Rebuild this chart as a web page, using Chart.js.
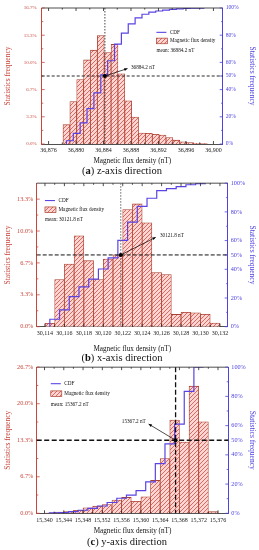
<!DOCTYPE html>
<html>
<head>
<meta charset="utf-8">
<script src="https://cdn.jsdelivr.net/npm/chart.js@4.4.0/dist/chart.umd.min.js"></script>
<style>
    html, body { margin: 0; padding: 0; background: #fff; }
    body { width: 259px; height: 550px; position: relative; overflow: hidden; font-family: 'Liberation Serif', 'Times New Roman', serif; }
    .panel { position: absolute; left: 0; width: 259px; }
    .caption { position: absolute; width: 200px; text-align: center; font-size: 10.5px; line-height: 12px; color: #111; }
</style>
</head>
<body>
<div class="panel" style="top:0;height:166px"><canvas id="chart-z"></canvas></div>
<div class="caption" style="top:165px;left:22px">(<b>a</b>) z-axis direction</div>
<div class="panel" style="top:176px;height:178px"><canvas id="chart-x"></canvas></div>
<div class="caption" style="top:352px;left:22px">(<b>b</b>) x-axis direction</div>
<div class="panel" style="top:360px;height:176px"><canvas id="chart-y"></canvas></div>
<div class="caption" style="top:536px;left:27px">(<b>c</b>) y-axis direction</div>
<script>
const FONT = "'Liberation Serif', 'Times New Roman', serif";
const LEFT_COLOR = '#c8463c';
const RIGHT_COLOR = '#4f43e0';
const CDF_COLOR = '#5a44e4';
const BAR_EDGE = '#a8402f';

// (a) z-axis: bin centers (nT), frequency (%), CDF (%)
const zBins = [36878.6, 36879.6, 36880.6, 36881.6, 36882.6, 36883.6, 36884.6, 36885.6, 36886.6, 36887.6,
    36888.6, 36889.6, 36890.6, 36891.6, 36892.6, 36893.6, 36894.6, 36895.6, 36896.6, 36897.6, 36898.6];
const zFreq = [2.37, 5.2, 7.9, 10.3, 11.5, 13.3, 11.2, 12.2, 8.6, 5.3, 3.3, 1.34, 1.3, 1.2, 1.1, 0.8, 0.47, 0.27, 0.16, 0.08, 0.04];
const zCdf = [2.4, 7.8, 15.6, 26.0, 37.6, 50.8, 61.2, 73.4, 81.5, 88.3, 92.8, 95.4, 96.9, 97.8, 98.5, 99.0, 99.4, 99.7, 99.85, 99.95, 100];
const zTicksX = [36876, 36880, 36884, 36888, 36892, 36896, 36900];
const zTicksLeft = [0, 3.333, 6.667, 10, 13.333, 16.667];
const zMean = 36884.2;

// (b) x-axis
const xBins = [30114.5, 30115.5, 30116.5, 30117.5, 30118.5, 30119.5, 30120.5, 30121.5, 30122.5,
    30123.5, 30124.5, 30125.5, 30126.5, 30127.5, 30128.5, 30129.5, 30130.5, 30131.5];
const xFreq = [0.35, 4.93, 6.55, 9.49, 6.9, 4.93, 7.07, 7.52, 12.25, 12.83, 10.86, 5.66, 5.45, 1.28, 1.5, 1.45, 1.3, 0.38];
const xCdf = [5.2, 11.7, 21.0, 27.8, 33.1, 40.2, 48.0, 60.2, 72.9, 83.8, 89.5, 94.8, 96.2, 97.6, 98.9, 99.7, 100];
const xTicksX = [30114, 30116, 30118, 30120, 30122, 30124, 30126, 30128, 30130, 30132];
const xTicksLeft = [0, 3.333, 6.667, 10, 13.333];
const xMean = 30121.8;

// (c) y-axis
const yBins = [15341, 15343, 15345, 15347, 15349, 15351, 15353, 15355, 15357,
    15359, 15361, 15363, 15365, 15367, 15369, 15371, 15373, 15375];
const yFreq = [0.05, 0.2, 0.3, 0.55, 1.0, 1.3, 1.6, 2.4, 2.9, 2.2, 3.0, 6.0, 10.0, 17.0, 13.0, 23.2, 16.7, 0.3];
const yCdf = [0.25, 0.55, 1.1, 2.1, 3.4, 5.0, 7.4, 10.3, 12.5, 15.5, 21.5, 34.0, 47.5, 61.0, 83.5, 100, 100];
const yTicksX = [15340, 15344, 15348, 15352, 15356, 15360, 15364, 15368, 15372, 15376];
const yTicksLeft = [0, 6.667, 13.333, 20, 26.667];
const yMean = 15367.2;

const cdfTicks = [0, 20, 40, 50, 60, 80, 100];

function hatchPattern() {
    const c = document.createElement('canvas');
    c.width = 4; c.height = 4;
    const g = c.getContext('2d');
    g.fillStyle = '#fcd6d2';
    g.fillRect(0, 0, 4, 4);
    g.strokeStyle = '#dd5a52';
    g.lineWidth = 0.9;
    g.beginPath();
    g.moveTo(0, 4); g.lineTo(4, 0);
    g.moveTo(-1, 1); g.lineTo(1, -1);
    g.moveTo(3, 5); g.lineTo(5, 3);
    g.stroke();
    return g.createPattern(c, 'repeat');
}
const HATCH = hatchPattern();

function midpoints(list) {
    const out = [];
    for (let i = 1; i < list.length; i++) out.push((list[i - 1] + list[i]) / 2);
    return out;
}

function inTicks(ctx, pixels, fixed, len, vertical) {
    ctx.beginPath();
    pixels.forEach(p => {
        if (vertical) { ctx.moveTo(p, fixed); ctx.lineTo(p, fixed + len); }
        else { ctx.moveTo(fixed, p); ctx.lineTo(fixed + len, p); }
    });
    ctx.stroke();
}

const decor = {
    id: 'decor',
    afterDatasetsDraw(chart, args, o) {
        const {ctx, chartArea: a, scales} = chart;
        const sx = scales.x, sl = scales.yL, sr = scales.yR;
        ctx.save();

        // top frame line
        ctx.strokeStyle = '#222';
        ctx.lineWidth = 0.8;
        ctx.beginPath(); ctx.moveTo(a.left, a.top); ctx.lineTo(a.right, a.top); ctx.stroke();

        // ticks pointing inside
        const xMaj = o.ticksX.map(v => sx.getPixelForValue(v));
        const xMin = midpoints(o.ticksX).map(v => sx.getPixelForValue(v));
        inTicks(ctx, xMaj, a.bottom, -3, true);
        inTicks(ctx, xMin, a.bottom, -1.6, true);
        inTicks(ctx, xMaj, a.top, 3, true);
        inTicks(ctx, xMin, a.top, 1.6, true);
        ctx.strokeStyle = LEFT_COLOR;
        inTicks(ctx, o.ticksLeft.map(v => sl.getPixelForValue(v)), a.left, 3, false);
        inTicks(ctx, midpoints(o.ticksLeft).map(v => sl.getPixelForValue(v)), a.left, 1.6, false);
        ctx.strokeStyle = RIGHT_COLOR;
        inTicks(ctx, cdfTicks.map(v => sr.getPixelForValue(v)), a.right, -3, false);
        inTicks(ctx, [10, 30, 70, 90].map(v => sr.getPixelForValue(v)), a.right, -1.6, false);

        // mean lines
        const mx = sx.getPixelForValue(o.mean);
        const my = sr.getPixelForValue(50);
        ctx.lineWidth = o.lineW;
        ctx.strokeStyle = o.vColor;
        ctx.setLineDash(o.vDash);
        ctx.beginPath(); ctx.moveTo(mx, a.top); ctx.lineTo(mx, a.bottom); ctx.stroke();
        ctx.strokeStyle = '#111';
        ctx.setLineDash(o.hDash);
        ctx.beginPath(); ctx.moveTo(a.left, my); ctx.lineTo(a.right, my); ctx.stroke();
        ctx.setLineDash([]);

        // marker
        ctx.fillStyle = '#000';
        ctx.beginPath(); ctx.arc(mx, my, 2, 0, Math.PI * 2); ctx.fill();

        // arrow to the label
        const ax = sx.getPixelForValue(o.arrow[0]);
        const ay = sr.getPixelForValue(o.arrow[1]);
        const ang = Math.atan2(ay - my, ax - mx);
        ctx.strokeStyle = '#000';
        ctx.lineWidth = 0.7;
        ctx.beginPath(); ctx.moveTo(mx, my); ctx.lineTo(ax, ay); ctx.stroke();
        ctx.beginPath();
        ctx.moveTo(ax, ay);
        ctx.lineTo(ax - 3.6 * Math.cos(ang - 0.4), ay - 3.6 * Math.sin(ang - 0.4));
        ctx.lineTo(ax - 3.6 * Math.cos(ang + 0.4), ay - 3.6 * Math.sin(ang + 0.4));
        ctx.closePath(); ctx.fill();

        ctx.font = '5.2px ' + FONT;
        ctx.textBaseline = 'middle';
        ctx.textAlign = o.labelAlign;
        ctx.fillStyle = '#111';
        ctx.fillText(o.label, sx.getPixelForValue(o.labelAt[0]), sr.getPixelForValue(o.labelAt[1]));

        // legend
        const lx = sx.getPixelForValue(o.legendAt[0]);
        const ly = sr.getPixelForValue(o.legendAt[1]);
        ctx.textAlign = 'left';
        ctx.strokeStyle = CDF_COLOR;
        ctx.lineWidth = 1.1;
        ctx.beginPath(); ctx.moveTo(lx, ly); ctx.lineTo(lx + 10, ly); ctx.stroke();
        ctx.fillText('CDF', lx + 13.5, ly);
        const by = ly + o.gap;
        ctx.fillStyle = HATCH;
        ctx.fillRect(lx, by - 2.8, 11, 5.6);
        ctx.strokeStyle = BAR_EDGE;
        ctx.lineWidth = 0.7;
        ctx.strokeRect(lx, by - 2.8, 11, 5.6);
        ctx.fillStyle = '#111';
        ctx.fillText('Magnetic flux density', lx + 13.5, by);
        ctx.fillText('mean: ' + o.mean.toFixed(1) + ' nT', lx, by + o.gap + 0.8);

        ctx.restore();
    }
};

function makePanel(id, p) {
    const bars = p.bins.map((b, i) => ({x: b, y: p.freq[i]}));
    const cdf = [{x: p.bins[0], y: 0}].concat(p.cdf.map((v, i) => ({x: p.bins[i], y: v})));
    return new Chart(document.getElementById(id), {
        type: 'bar',
        data: {
            datasets: [{
                type: 'bar',
                data: bars,
                xAxisID: 'x',
                yAxisID: 'yL',
                backgroundColor: HATCH,
                borderColor: BAR_EDGE,
                borderWidth: 0.8,
                barPercentage: 1,
                categoryPercentage: 1,
                order: 2
            }, {
                type: 'line',
                data: cdf,
                xAxisID: 'x',
                yAxisID: 'yR',
                stepped: true,
                borderColor: CDF_COLOR,
                borderWidth: 1.2,
                pointRadius: 0,
                fill: false,
                order: 1
            }]
        },
        options: {
            responsive: true,
            maintainAspectRatio: false,
            devicePixelRatio: 1,
            animation: false,
            events: [],
            layout: {padding: {top: p.padTop, left: 0, right: 0, bottom: 0}},
            plugins: {
                legend: {display: false},
                tooltip: {enabled: false},
                decor: {
                    mean: p.mean, ticksX: p.ticksX, ticksLeft: p.ticksLeft,
                    vDash: p.vDash, hDash: p.hDash, vColor: p.vColor, lineW: p.lineW,
                    arrow: p.arrow, label: p.mean.toFixed(1) + ' nT', labelAt: p.labelAt, labelAlign: p.labelAlign,
                    legendAt: p.legendAt, gap: p.gap
                }
            },
            scales: {
                x: {
                    type: 'linear',
                    position: 'bottom',
                    min: p.xMin,
                    max: p.xMax,
                    offset: false,
                    afterBuildTicks: s => { s.ticks = p.ticksX.map(v => ({value: v})); },
                    afterFit: s => { s.height = p.xH; },
                    grid: {display: false, drawTicks: false},
                    border: {color: '#222', width: 0.8},
                    ticks: {
                        color: '#222', autoSkip: false, maxRotation: 0, padding: p.xPad,
                        font: {family: FONT, size: 6},
                        callback: v => v.toLocaleString('en-US')
                    },
                    title: {
                        display: true, text: 'Magnetic flux density (nT)', color: '#111',
                        font: {family: FONT, size: 7.2}, padding: {top: 0, bottom: p.titlePad}
                    }
                },
                yL: {
                    position: 'left',
                    min: 0,
                    max: p.leftMax,
                    afterBuildTicks: s => { s.ticks = p.ticksLeft.map(v => ({value: v})); },
                    afterFit: s => { s.width = p.leftW; },
                    grid: {display: false, drawTicks: false},
                    border: {color: LEFT_COLOR, width: 1},
                    ticks: {
                        color: LEFT_COLOR, padding: p.leftPad,
                        font: {family: FONT, size: p.leftFont},
                        callback: v => v.toFixed(1) + '%'
                    },
                    title: {
                        display: true, text: 'Statistics frequency', color: LEFT_COLOR,
                        font: {family: FONT, size: 7.5}, padding: {top: 4, bottom: 0}
                    }
                },
                yR: {
                    position: 'right',
                    min: 0,
                    max: 100,
                    afterBuildTicks: s => { s.ticks = cdfTicks.map(v => ({value: v})); },
                    afterFit: s => { s.width = p.rightW; },
                    grid: {display: false, drawTicks: false},
                    border: {color: RIGHT_COLOR, width: 1},
                    ticks: {
                        color: RIGHT_COLOR, padding: 3,
                        font: {family: FONT, size: p.rightFont},
                        callback: v => v + '%'
                    },
                    title: {
                        display: true, text: 'Statistics frequency', color: RIGHT_COLOR,
                        font: {family: FONT, size: 7.5}, padding: {top: 3, bottom: 0}
                    }
                }
            }
        },
        plugins: [decor]
    });
}

makePanel('chart-z', {
    bins: zBins, freq: zFreq, cdf: zCdf, ticksX: zTicksX, ticksLeft: zTicksLeft, mean: zMean,
    xMin: 36875.0, xMax: 36901.35, leftMax: 16.667,
    padTop: 3, leftW: 41.7, rightW: 36.3, xH: 22, xPad: 3, titlePad: 0.5,
    leftFont: 5, rightFont: 5.6, leftPad: 5,
    vDash: [1.5, 1.5], hDash: [3, 2], vColor: '#333', lineW: 0.9,
    arrow: [36887.5, 55.5], labelAt: [36888.0, 56.5], labelAlign: 'left',
    legendAt: [36891.7, 82.1], gap: 8.6
});

makePanel('chart-x', {
    bins: xBins, freq: xFreq, cdf: xCdf, ticksX: xTicksX, ticksLeft: xTicksLeft, mean: xMean,
    xMin: 30113.15, xMax: 30132.8, leftMax: 15,
    padTop: 5.7, leftW: 36.7, rightW: 31.3, xH: 27.3, xPad: 3.5, titlePad: 0.3,
    leftFont: 6.3, rightFont: 6.2, leftPad: 3.4,
    vDash: [1.5, 1.5], hDash: [4, 2], vColor: '#666', lineW: 1,
    arrow: [30125.4, 62.3], labelAt: [30125.83, 63.7], labelAlign: 'left',
    legendAt: [30114.0, 87.9], gap: 9.2
});

makePanel('chart-y', {
    bins: yBins, freq: yFreq, cdf: yCdf, ticksX: yTicksX, ticksLeft: yTicksLeft, mean: yMean,
    xMin: 15338.38, xMax: 15378.14, leftMax: 26.667,
    padTop: 6, leftW: 36.7, rightW: 30.7, xH: 22.7, xPad: 3.5, titlePad: 0.3,
    leftFont: 6.3, rightFont: 6.2, leftPad: 3.4,
    vDash: [5, 2.5], hDash: [5, 2.5], vColor: '#111', lineW: 1.3,
    arrow: [15361.6, 61.1], labelAt: [15361.0, 62.7], labelAlign: 'right',
    legendAt: [15341.3, 88.7], gap: 10
});
</script>
</body>
</html>
